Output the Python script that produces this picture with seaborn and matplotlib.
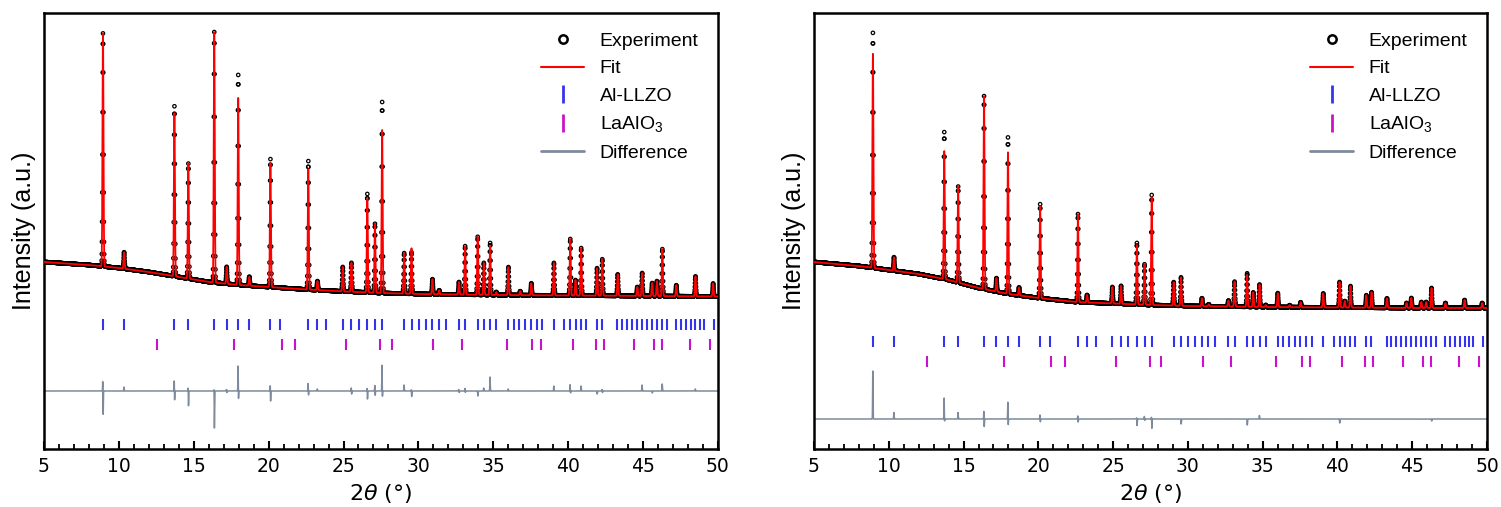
import numpy as np
import pandas as pd
import seaborn as sns
import matplotlib.pyplot as plt
from matplotlib.lines import Line2D

# Reflections observed in both patterns (2theta, degrees)
peak_pos = [8.94, 10.35, 13.71, 14.64, 16.37, 17.20, 17.97, 18.71, 20.12, 22.65,
            23.26, 24.95, 25.53, 26.59, 27.10, 27.58, 29.05, 29.54, 30.94, 31.39,
            32.71, 33.12, 33.96, 34.37, 34.79, 35.20, 36.01, 36.80, 37.54, 39.05,
            40.14, 40.49, 40.87, 41.93, 42.28, 43.31, 44.62, 44.94, 45.61, 45.93,
            46.29, 47.22, 48.50, 49.68]

# net peak heights above background (a.u.)
fit_h_left = [233, 16.5, 163, 115, 250.5, 17, 187, 9, 124, 120.5,
              9, 24.5, 29, 93.5, 69, 163, 40.5, 45.5, 15, 4,
              12.5, 48.5, 58, 32, 49, 3, 28, 4, 12, 32.5,
              56.5, 15.5, 47.5, 27.5, 36.5, 21.5, 9, 23, 13, 15,
              47, 11, 20, 13]
exp_h_left = [233, 16.5, 170, 115, 250.5, 17, 210, 9, 128, 128.5,
              9, 24.5, 29, 98.5, 69, 191, 40.5, 41.5, 15, 4,
              12.5, 48.5, 58, 32, 52, 3, 28, 4, 12, 32.5,
              56.5, 15.5, 47.5, 27.5, 36.5, 21.5, 9, 23, 13, 15,
              47, 11, 20, 13]
fit_h_right = [214, 13.5, 128, 96, 193, 13.5, 141.5, 8, 92, 88,
               7.5, 16.5, 18, 59.5, 40.5, 108, 23.5, 28.5, 8, 2,
               6, 25, 31.5, 14.5, 22.5, 2, 14, 2, 5, 14,
               25.5, 6.5, 21.5, 12.5, 15.5, 9.5, 5, 10, 6, 6,
               20, 5, 8, 5]
exp_h_right = [235, 13.5, 147, 96, 193, 13.5, 156.5, 8, 94, 88,
               7.5, 16.5, 18, 61.5, 40.5, 110, 23.5, 28.5, 8, 2,
               6, 25, 33.5, 14.5, 22.5, 2, 14, 2, 5, 14,
               25.5, 6.5, 21.5, 12.5, 15.5, 9.5, 5, 10, 6, 6,
               20, 5, 8, 5]

# background level
bg_x = [5, 8, 10, 12, 14, 16, 18, 20, 22.5, 25, 27.5, 30, 35, 40, 45, 50]
bg_left = [187, 184, 181, 177, 172, 167, 164, 162, 159.5, 157.5, 156, 155, 154, 153.5, 153, 152.5]
bg_right = [187, 183, 179, 175, 169, 161, 155, 151, 147, 145.5, 144, 143, 142, 141.5, 141, 141]

# Bragg positions
llzo_pos = [8.94, 10.35, 13.71, 14.64, 16.37, 17.20, 17.97, 18.71, 20.12, 20.76,
            22.65, 23.26, 23.83, 24.95, 25.53, 26.01, 26.59, 27.10, 27.58, 29.05,
            29.54, 30.02, 30.50, 30.91, 31.36, 31.84, 32.71, 33.12, 33.96, 34.37,
            34.79, 35.20, 36.01, 36.36, 36.74, 37.13, 37.51, 37.90, 38.28, 39.05,
            39.75, 40.14, 40.49, 40.87, 41.19, 41.93, 42.25, 43.28, 43.60, 43.92,
            44.27, 44.59, 44.94, 45.26, 45.61, 45.93, 46.26, 46.58, 47.22, 47.54,
            47.86, 48.18, 48.50, 48.82, 49.07, 49.75]
laalo3_pos = [12.53, 17.72, 20.86, 21.78, 25.18, 27.45, 28.22, 30.98, 32.90, 35.91,
              37.61, 38.18, 40.33, 41.87, 42.38, 44.37, 45.74, 46.26, 48.11, 49.46]

# difference spikes (position, upward, downward)
diff_pos_left = [8.94, 10.35, 13.71, 14.64, 16.37, 17.20, 17.97, 20.12, 22.65, 23.26,
                 25.53, 26.59, 27.10, 27.58, 29.05, 29.54, 32.71, 33.12, 33.96, 34.37,
                 34.79, 36.01, 39.05, 40.14, 40.87, 41.93, 42.28, 44.94, 45.61, 46.29, 48.50]
diff_up_left = [15, 4, 13, 5, 4, 2, 28, 8, 9, 2,
                4, 4, 7, 28, 6, 2, 2, 3, 0, 3,
                14, 2, 5, 7, 5, 0, 2, 6, 0, 7, 2]
diff_dn_left = [27, 0, 12, 16, 38, 2, 12, 12, 6, 0,
                4, 9, 6, 9, 0, 6, 2, 2, 5, 0,
                0, 0, 0, 3, 0, 3, 2, 0, 2, 0, 0]
diff_pos_right = [8.94, 10.35, 13.71, 14.64, 16.37, 17.97, 20.12, 22.65, 26.59, 27.10,
                  27.58, 29.54, 33.96, 34.79, 40.14, 46.29]
diff_up_right = [48, 6.5, 22, 6.5, 10, 19, 5, 4, 2, 3, 3, 0, 0, 3.5, 0, 0]
diff_dn_right = [0, 0, 4, 0, 10, 9, 4, 4, 7, 2, 10, 5, 6, 0, 4, 2]

two_theta = np.round(np.arange(5, 50.0001, 0.01), 2)
sigma = 0.033


def pattern(heights, bg):
    y = np.interp(two_theta, bg_x, bg)
    for p, h in zip(peak_pos, heights):
        y = y + h * np.exp(-0.5 * ((two_theta - p) / sigma) ** 2)
    return y


def difference(pos, up, dn, base):
    y = np.full_like(two_theta, base)
    for p, u, d in zip(pos, up, dn):
        y = y + u * np.exp(-0.5 * ((two_theta - p + 0.01) / 0.012) ** 2)
        y = y - d * np.exp(-0.5 * ((two_theta - p - 0.01) / 0.012) ** 2)
    return y


sns.set_theme(style='white')
plt.rcParams['font.family'] = ['Liberation Sans', 'DejaVu Sans']
plt.rcParams['mathtext.fontset'] = 'custom'
plt.rcParams['mathtext.rm'] = 'Liberation Sans'
plt.rcParams['mathtext.it'] = 'Liberation Sans:italic'
plt.rcParams['text.color'] = 'black'
plt.rcParams['axes.labelcolor'] = 'black'
plt.rcParams['xtick.color'] = 'black'

fig = plt.figure(figsize=(15.01, 5.07), dpi=100)
panels = [
    ([0.0293, 0.1144, 0.449, 0.860], fit_h_left, exp_h_left, bg_left,
     diff_pos_left, diff_up_left, diff_dn_left, 124, 104, 58),
    ([0.5423, 0.1144, 0.4484, 0.860], fit_h_right, exp_h_right, bg_right,
     diff_pos_right, diff_up_right, diff_dn_right, 107, 87, 30),
]

blue = '#3434ee'
magenta = '#c814c8'
grey = '#7d8b9c'

for rect, fit_h, exp_h, bg, dpos, dup, ddn, y_llzo, y_lao, y_diff in panels:
    ax = fig.add_axes(rect)
    df = pd.DataFrame({'tt': two_theta,
                       'exp': pattern(exp_h, bg),
                       'fit': pattern(fit_h, bg),
                       'diff': difference(dpos, dup, ddn, y_diff)})
    sns.lineplot(data=df, x='tt', y='diff', ax=ax, color=grey, lw=1.1,
                 estimator=None, sort=False)
    sns.scatterplot(data=df, x='tt', y='exp', ax=ax, marker='o', s=6,
                    facecolor='none', edgecolor='black', linewidth=0.9, zorder=3)
    sns.lineplot(data=df, x='tt', y='fit', ax=ax, color='red', lw=1.3,
                 estimator=None, sort=False, zorder=4)
    ax.vlines(llzo_pos, y_llzo - 5.5, y_llzo + 5.5, color=blue, lw=1.5)
    ax.vlines(laalo3_pos, y_lao - 5.5, y_lao + 5.5, color=magenta, lw=1.5)

    ax.set_xlim(5, 50)
    ax.set_ylim(0, 436)
    ax.set_xticks(range(5, 51, 5))
    ax.set_xticks(range(5, 51), minor=True)
    ax.set_yticks([])
    ax.tick_params(axis='x', which='major', direction='in', length=6, width=1.5,
                   labelsize=13.5, pad=6, bottom=True, colors='black')
    ax.tick_params(axis='x', which='minor', direction='in', length=3.5, width=1.3,
                   bottom=True, colors='black')
    for lab in ax.get_xticklabels():
        lab.set_fontfamily('DejaVu Sans')
    for s in ax.spines.values():
        s.set_linewidth(1.8)
        s.set_color('black')
    ax.set_xlabel(r'$\mathit{2}\theta$ (°)', fontsize=16, fontfamily='DejaVu Sans',
                  math_fontfamily='dejavusans', labelpad=4)
    ax.set_ylabel('Intensity (a.u.)', fontsize=18, labelpad=6)

    handles = [
        Line2D([], [], ls='none', marker='o', mfc='none', mec='black', ms=6, mew=1.8),
        Line2D([], [], color='red', lw=1.5),
        Line2D([], [], ls='none', marker='|', color=blue, ms=13, mew=2),
        Line2D([], [], ls='none', marker='|', color=magenta, ms=13, mew=2),
        Line2D([], [], color=grey, lw=2),
    ]
    labels = ['Experiment', 'Fit', 'Al-LLZO', 'LaAlO$_3$', 'Difference']
    leg = ax.legend(handles, labels, loc='upper right', frameon=False, fontsize=14,
                    handlelength=2.2, handletextpad=0.8, labelspacing=0.5,
                    borderaxespad=0.6)
    for t in leg.get_texts():
        t.set_color('black')

fig.savefig('out.png', dpi=100)
